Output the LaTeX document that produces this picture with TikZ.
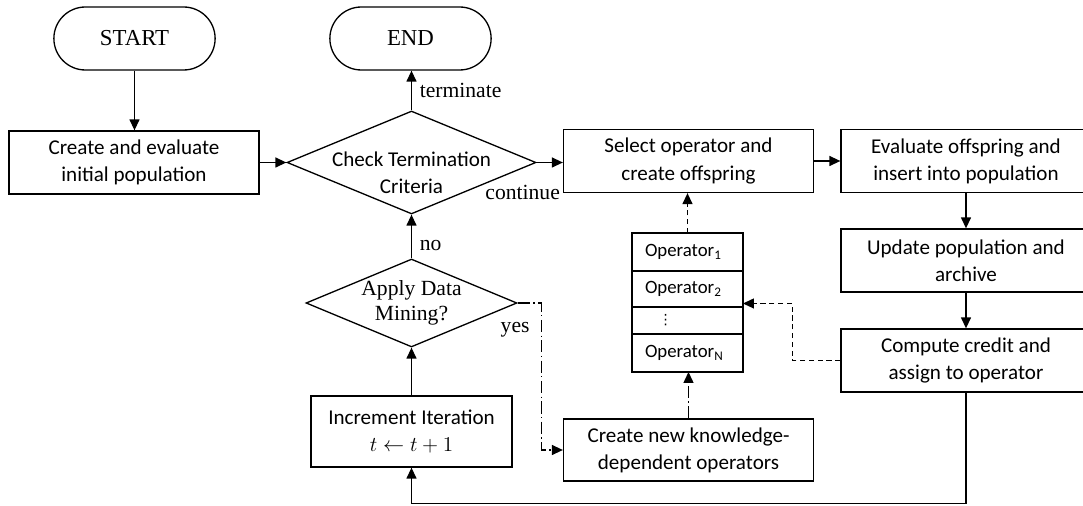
\documentclass[tikz,border=0pt]{standalone}
\usepackage{fontspec}
\setmainfont{Liberation Serif}
\newfontfamily\calfont{Carlito}
\newfontfamily\symfont{DejaVu Sans}
\usetikzlibrary{arrows.meta,positioning,calc,shapes.geometric,shapes.misc}
\tikzset{>={Triangle[length=0.22cm,width=0.2cm]},
  sans/.style={font=\calfont\fontsize{12}{15.4}\selectfont},
  proc/.style={draw, line width=0.75pt, minimum width=5cm, minimum height=1.26cm, align=center, sans},
  term/.style={draw, line width=0.75pt, rounded rectangle, minimum width=3.46cm, minimum height=1.26cm, font=\fontsize{13}{15}\selectfont},
  decide/.style={draw, line width=0.75pt, diamond, aspect=2.4, inner xsep=-1cm, inner ysep=0pt, align=center},
  oprow/.style={draw, line width=0.75pt, outer sep=0pt, minimum width=2.22cm, text width=1.7cm, inner xsep=0.26cm, inner ysep=0pt, align=left, font=\calfont\fontsize{10.7}{12}\selectfont},
  lbl/.style={font=\fontsize{12.3}{14}\selectfont},
  flow/.style={->, line width=0.75pt},
  dsh/.style={flow, dash pattern=on 3pt off 2pt},
  dshdot/.style={flow, dash pattern=on 7pt off 2pt on 0.6pt off 2pt}}
\begin{document}
\begin{tikzpicture}[x=0.02cm, y=-0.02cm]
  \path[use as bounding box, clip] (0,0) rectangle (1083,506);
  % main loop
  \node[term] (start) at (134.5,38.5) {START};
  \node[term] (stop) at (410.5,38.5) {END};
  \node[proc] (init) at (134,162.5) {Create and evaluate\\initial population};
  \node[decide, minimum width=4.98cm, minimum height=2.06cm,
    label={[sans, align=center, yshift=-0.2cm]center:Check Termination\\Criteria}] (chk) at (411.5,162.5) {};
  \node[proc] (sel) at (688.5,161) {Select operator and\\create offspring};
  \node[proc] (evl) at (966,161) {Evaluate offspring and\\insert into population};
  \node[proc] (upd) at (966,260.5) {Update population and\\archive};
  \node[proc] (cred) at (966,360.5) {Compute credit and\\assign to operator};
  \node[decide, minimum width=4.22cm, minimum height=1.76cm, font=\fontsize{12.3}{14.3}\selectfont] (apply) at (411.5,303) {Apply Data\\Mining?};
  \node[proc, minimum width=4.02cm, minimum height=1.42cm] (incr) at (411.5,431.5) {Increment Iteration\\$t \leftarrow t+1$};
  \node[proc, minimum height=1.24cm] (know) at (688.5,450) {Create new knowledge-\\dependent operators};
  % operator pool
  \node[oprow, minimum height=0.76cm] (op1) at (687.5,252) {Operator\textsubscript{1}};
  \node[oprow, minimum height=0.72cm, below=0pt of op1] (op2) {Operator\textsubscript{2}};
  \node[oprow, minimum height=0.54cm, below=0pt of op2] (op3) {\hspace*{0.27cm}{\symfont\fontsize{8}{8}\selectfont ⋮}};
  \node[oprow, minimum height=0.76cm, below=0pt of op3] (opN) {Operator\textsubscript{N}};
  % connectors
  \draw[flow] (start.south) -- (start.south |- init.north);
  \draw[flow] (init.east) -- (chk.west);
  \draw[flow] (chk.north) -- (chk.north |- stop.south) node[lbl, midway, right=1pt] {terminate};
  \draw[flow] (chk.east) node[lbl, xshift=-0.28cm, yshift=-0.6cm] {continue} -- (chk.east -| sel.west);
  \draw[flow] (sel.east) -- (evl.west);
  \draw[flow] (evl.south) -- (upd.north);
  \draw[flow] (upd.south) -- (cred.north);
  \draw[flow] (cred.south) -- ++(0,111) -| (incr.south);
  \draw[flow] (incr.north) -- (apply.south);
  \draw[flow] (apply.north) -- (chk.south) node[lbl, pos=0.3, right=1pt] {no};
  \draw[dshdot] (apply.east) node[lbl, xshift=-0.05cm, yshift=-0.54cm] {yes} -- ++(24,0) |- (know.west);
  \draw[dshdot] (know.north) -- (know.north |- opN.south);
  \draw[dsh] (op1.north) -- (op1.north |- sel.south);
  \draw[dsh] (cred.west) -- ++(-48,0) |- ($(op2.south east)+(0,-3.5)$);
\end{tikzpicture}
\end{document}
